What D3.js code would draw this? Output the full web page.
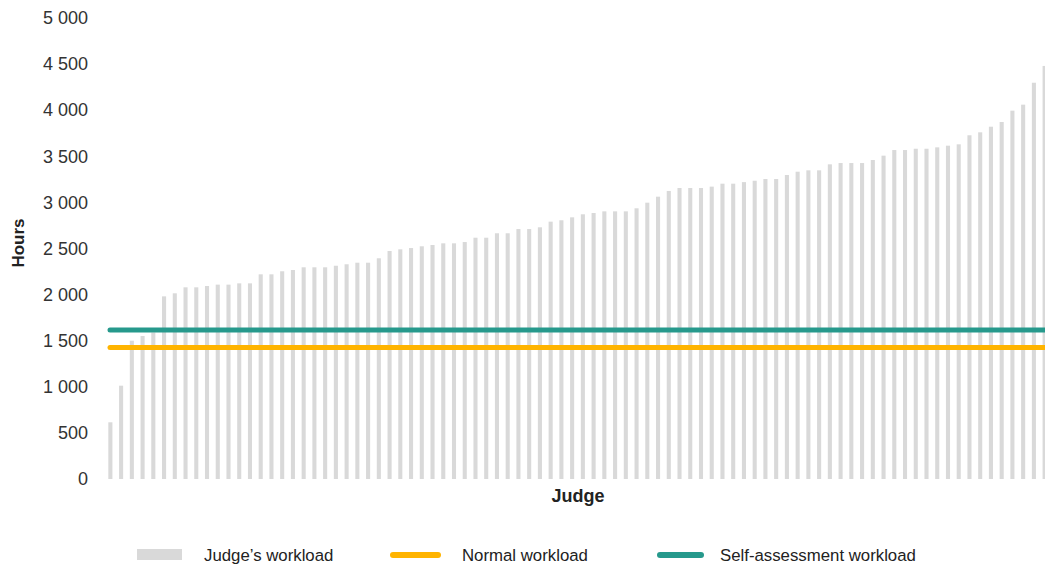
<!DOCTYPE html>
<html>
<head>
<meta charset="utf-8">
<script src="https://cdn.jsdelivr.net/npm/d3@7"></script>
<style>
  html, body { margin: 0; padding: 0; background: #fff; overflow: hidden; }
  svg { display: block; font-family: "Liberation Sans", Arial, sans-serif; }
</style>
</head>
<body>
<svg id="chart" width="1045" height="570"></svg>
<script>
// Annual workload per judge, sorted ascending (hours)
const workload = [
  615, 1012, 1500, 1551, 1590, 1981, 2014, 2079, 2079, 2093, 2108, 2108, 2122, 2122,
  2220, 2220, 2253, 2267, 2296, 2296, 2296, 2313, 2329, 2346, 2346, 2394, 2473, 2491, 2505,
  2524, 2538, 2556, 2556, 2570, 2617, 2617, 2665, 2665, 2711, 2711, 2730, 2791, 2806, 2838,
  2871, 2885, 2903, 2903, 2903, 2936, 2997, 3062, 3124, 3156, 3156, 3156, 3171, 3203, 3203,
  3220, 3235,
  3254, 3254, 3297, 3333, 3348, 3348, 3413, 3427, 3427, 3427, 3460, 3507,
  3568, 3568, 3582, 3582, 3597, 3615, 3630, 3728, 3760, 3821, 3872, 3995, 4060, 4298, 4480
];
const judges = workload.map((_, i) => i + 1);

// Reference levels (hours)
const normalWorkload = 1426;
const selfAssessmentWorkload = 1615;

const yTicks = [0, 500, 1000, 1500, 2000, 2500, 3000, 3500, 4000, 4500, 5000];

const legendItems = [
  { label: "Judge\u2019s workload", kind: "bar", color: "#d9d9d9" },
  { label: "Normal workload", kind: "line", color: "#ffb400" },
  { label: "Self-assessment workload", kind: "line", color: "#26998c" }
];

const svg = d3.select("#chart");
const margin = { left: 105, right: -5, top: 18, bottom: 91 };
const W = 1045, H = 570;

const x = d3.scaleBand()
  .domain(judges)
  .range([margin.left, W - margin.right])
  .paddingInner(0.62)
  .paddingOuter(0.31);

const y = d3.scaleLinear()
  .domain([0, 5000])
  .range([H - margin.bottom, margin.top]);

// Y axis: labels only, no domain line or ticks; thousands separated by a space
const yAxis = d3.axisLeft(y).tickValues(yTicks).tickSize(0).tickPadding(0)
  .tickFormat(v => d3.format(",")(v).replace(/,/g, " "));
const gy = svg.append("g")
  .attr("transform", "translate(88,0)")
  .call(yAxis);
gy.select(".domain").remove();
gy.selectAll("text")
  .attr("font-size", 18)
  .attr("fill", "#333")
  .attr("font-family", "\"Liberation Sans\", Arial, sans-serif");

// Bars
svg.append("g")
  .selectAll("rect")
  .data(workload)
  .join("rect")
  .attr("x", (d, i) => x(judges[i]))
  .attr("width", x.bandwidth())
  .attr("y", d => y(d))
  .attr("height", d => y(0) - y(d))
  .attr("fill", "#d9d9d9");

// Reference lines
const refLines = [
  { value: selfAssessmentWorkload, color: "#26998c" },
  { value: normalWorkload, color: "#ffb400" }
];
svg.append("g")
  .selectAll("line")
  .data(refLines)
  .join("line")
  .attr("x1", 110)
  .attr("x2", W + 10)
  .attr("y1", d => y(d.value))
  .attr("y2", d => y(d.value))
  .attr("stroke", d => d.color)
  .attr("stroke-width", 5)
  .attr("stroke-linecap", "round");

// Axis titles
svg.append("text")
  .attr("transform", "translate(24,243) rotate(-90)")
  .attr("text-anchor", "middle")
  .attr("font-size", 17)
  .attr("font-weight", "bold")
  .attr("fill", "#222")
  .text("Hours");

svg.append("text")
  .attr("x", 578)
  .attr("y", 502)
  .attr("text-anchor", "middle")
  .attr("font-size", 18)
  .attr("font-weight", "bold")
  .attr("fill", "#222")
  .text("Judge");

// Legend
const legendX = [137, 390, 657];
const legendTextX = [204, 462, 720];
const lg = svg.append("g").attr("class", "legend");
legendItems.forEach((item, i) => {
  if (item.kind === "bar") {
    lg.append("rect")
      .attr("x", legendX[i]).attr("y", 549)
      .attr("width", 45).attr("height", 11)
      .attr("fill", item.color);
  } else {
    lg.append("line")
      .attr("x1", legendX[i] + 3).attr("x2", legendX[i] + (i === 1 ? 48 : 44))
      .attr("y1", 555).attr("y2", 555)
      .attr("stroke", item.color)
      .attr("stroke-width", 6)
      .attr("stroke-linecap", "round");
  }
  lg.append("text")
    .attr("x", legendTextX[i])
    .attr("y", 561)
    .attr("font-size", 16.8)
    .attr("fill", "#222")
    .text(item.label);
});
</script>
</body>
</html>
